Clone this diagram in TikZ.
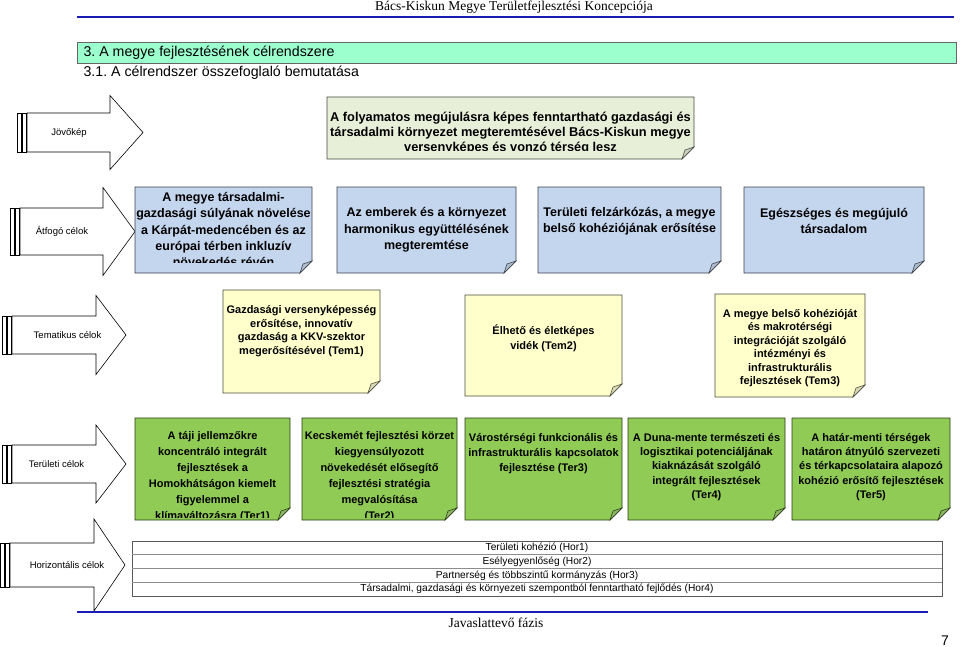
\documentclass[tikz,border=0pt]{standalone}
\usepackage{fontspec}
\setmainfont{Liberation Sans}
\newfontfamily\timesfont{Liberation Serif}
\usetikzlibrary{calc}
\frenchspacing

\definecolor{headgreen}{HTML}{9CFFCE}
\definecolor{visiongreen}{HTML}{E8EFD9}
\definecolor{goalblue}{HTML}{C4D5EE}
\definecolor{themeyellow}{HTML}{FFFFCC}
\definecolor{areagreen}{HTML}{8FCB55}
\definecolor{pageblue}{HTML}{1A1AB5}

% note box: name, x1, y1, x2, y2, colour, text y, font, text
\newcommand{\clipgap}{8}
\newcommand{\notebox}[9]{%
  \filldraw[notebox=#6] (#2,#3) -- (#4,#3) -- (#4,#5-12) -- (#4-12,#5) -- (#2,#5) -- cycle;
  \filldraw[notefold=#6] (#4,#5-12) -- (#4-9,#5-9) -- (#4-12,#5) -- cycle;
  \begin{scope}
    \clip (#2,#3) rectangle (#4,#5-\clipgap);
    \node[boxtext,font={#8\bfseries}] (#1) at ({(#2+#4)/2},#7) {#9};
  \end{scope}}

\begin{document}
\begin{tikzpicture}[x=1pt,y=-1pt,
  notebox/.style={draw=#1!30!black,fill=#1,line width=0.9pt},
  notefold/.style={draw=#1!30!black,fill=#1!70!gray,line width=0.6pt},
  boxtext/.style={align=center,inner sep=0pt},
  arrowline/.style={draw=black,fill=white,line width=0.6pt},
  arrowlabel/.style={font=\fontsize{9.5}{11}\selectfont},
  rowtext/.style={font=\fontsize{10.2}{11}\selectfont},
  tableline/.style={draw=black!65,line width=0.8pt},
  pageline/.style={draw=pageblue,line width=1.6pt}]
\useasboundingbox (0,0) rectangle (960,647);

% page head
\node[font=\timesfont\fontsize{13.5}{15}\selectfont] (pagehead) at (514,7) {Bács-Kiskun Megye Területfejlesztési Koncepciója};
\draw[pageline] (77,17) -- (954,17);
\filldraw[fill=headgreen,draw=black!60] (77,42) rectangle (956,63);
\node[anchor=west,font=\fontsize{14.2}{16}\selectfont] (chapter) at (80,52.5) {3. A megye fejlesztésének célrendszere};
\node[anchor=west,font=\fontsize{14.2}{16}\selectfont] (section) at (80,72.5) {3.1. A célrendszer összefoglaló bemutatása};

% level arrows
\foreach \bx/\sy/\sh/\hx/\hh/\tx/\lx/\lab [count=\i] in {
  17/132.5/19.5/110/37/143/69/Jövőkép,
  10/231.5/23.5/103/44/135/62/Átfogó célok,
  2/335/19/96/39.5/126/67.5/Tematikus célok,
  2/464/19/96/39/126/56.5/Területi célok,
  0/565/22/94/46/125/67/Horizontális célok}{
  \draw[arrowline] (\bx,\sy-\sh) rectangle (\bx+4,\sy+\sh);
  \draw[arrowline] (\bx+5,\sy-\sh) rectangle (\bx+9,\sy+\sh);
  \draw[arrowline] (\bx+10,\sy-\sh) -- (\hx,\sy-\sh) -- (\hx,\sy-\hh) -- (\tx,\sy)
    -- (\hx,\sy+\hh) -- (\hx,\sy+\sh) -- (\bx+10,\sy+\sh) -- cycle;
  \node[arrowlabel] (level\i) at (\lx,\sy) {\lab};
}

% Jövőkép
\notebox{vision}{327}{97}{694}{159}{visiongreen}{133}{\fontsize{12.8}{15}\selectfont}{A folyamatos megújulásra képes fenntartható gazdasági és\\társadalmi környezet megteremtésével Bács-Kiskun megye\\versenyképes és vonzó térség lesz}

% Átfogó célok
\renewcommand{\clipgap}{11}
\notebox{atf1}{135}{187}{312}{273}{goalblue}{229.5}{\fontsize{12.5}{16.3}\selectfont}{A megye társadalmi-\\gazdasági súlyának növelése\\a Kárpát-medencében és az\\európai térben inkluzív\\növekedés révén}
\notebox{atf2}{337}{187}{516}{273}{goalblue}{230}{\fontsize{12.5}{16.3}\selectfont}{Az emberek és a környezet\\harmonikus együttélésének\\megteremtése}
\notebox{atf3}{538}{187}{721}{273}{goalblue}{221}{\fontsize{12.5}{16.3}\selectfont}{Területi felzárkózás, a megye\\belső kohéziójának erősítése}
\notebox{atf4}{744}{187}{924}{273}{goalblue}{221}{\fontsize{12.5}{16.3}\selectfont}{Egészséges és megújuló\\társadalom}

% Tematikus célok
\renewcommand{\clipgap}{8}
\notebox{tem1}{223}{290}{380}{393}{themeyellow}{331}{\fontsize{11}{13.7}\selectfont}{Gazdasági versenyképesség\\erősítése, innovatív\\gazdaság a KKV-szektor\\megerősítésével (Tem1)}
\notebox{tem2}{465}{295}{622}{396}{themeyellow}{338}{\fontsize{11}{15}\selectfont}{Élhető és életképes\\vidék (Tem2)}
\notebox{tem3}{715}{294}{865}{397}{themeyellow}{348}{\fontsize{11}{13.5}\selectfont}{A megye belső kohézióját\\és makrotérségi\\integrációját szolgáló\\intézményi és\\infrastrukturális\\fejlesztések (Tem3)}

% Területi célok
\renewcommand{\clipgap}{3}
\notebox{ter1}{135}{418}{290}{520}{areagreen}{477}{\fontsize{11}{16}\selectfont}{A táji jellemzőkre\\koncentráló integrált\\fejlesztések a\\Homokhátságon kiemelt\\figyelemmel a\\klímaváltozásra (Ter1)}
\notebox{ter2}{302}{418}{457}{520}{areagreen}{477}{\fontsize{11}{16}\selectfont}{Kecskemét fejlesztési körzet\\kiegyensúlyozott\\növekedését elősegítő\\fejlesztési stratégia\\megvalósítása\\(Ter2)}
\notebox{ter3}{465}{418}{622}{520}{areagreen}{454}{\fontsize{11}{15}\selectfont}{Várostérségi funkcionális és\\infrastrukturális kapcsolatok\\fejlesztése (Ter3)}
\notebox{ter4}{628}{418}{785}{520}{areagreen}{467}{\fontsize{11}{14.2}\selectfont}{A Duna-mente természeti és\\logisztikai potenciáljának\\kiaknázását szolgáló\\integrált fejlesztések\\(Ter4)}
\notebox{ter5}{792}{418}{950}{520}{areagreen}{467}{\fontsize{11}{14.2}\selectfont}{A határ-menti térségek\\határon átnyúló szervezeti\\és térkapcsolataira alapozó\\kohézió erősítő fejlesztések\\(Ter5)}

% Horizontális célok
\draw[tableline] (132,541) rectangle (942,596);
\foreach \y in {554.75,568.5,582.25}
  \draw[tableline,draw=black!45] (132,\y) -- (942,\y);
\node[rowtext] (hor1) at (537,547.9) {Területi kohézió (Hor1)};
\node[rowtext] (hor2) at (537,561.6) {Esélyegyenlőség (Hor2)};
\node[rowtext] (hor3) at (537,575.4) {Partnerség és többszintű kormányzás (Hor3)};
\node[rowtext] (hor4) at (537,589.1) {Társadalmi, gazdasági és környezeti szempontból fenntartható fejlődés (Hor4)};

% page foot
\draw[pageline] (77,612) -- (928,612);
\node[font=\timesfont\fontsize{13.5}{15}\selectfont] (pagefoot) at (496,623) {Javaslattevő fázis};
\node[font=\fontsize{14}{16}\selectfont] (pagenum) at (945,641) {7};
\end{tikzpicture}
\end{document}
